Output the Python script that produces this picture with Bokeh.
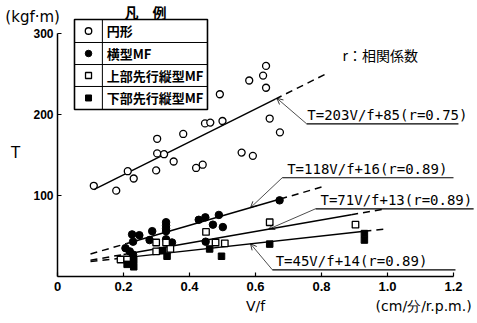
from bokeh.plotting import figure
from bokeh.models import Range1d, FixedTicker, Label, Arrow, OpenHead, BasicTickFormatter
from bokeh.embed import file_html
from bokeh.resources import INLINE

# ---------------- data ----------------
# 円形 (open circles)
en_x = [0.11, 0.178, 0.213, 0.231, 0.299, 0.302, 0.302, 0.323, 0.352, 0.381, 0.42, 0.44,
        0.447, 0.463, 0.50, 0.492, 0.558, 0.592, 0.581, 0.623, 0.632, 0.632, 0.643, 0.674]
en_y = [112, 106, 130, 121, 131, 170, 152, 151, 142, 176, 134, 138,
        189, 190, 192, 225, 153, 149, 242, 248, 260, 233, 195, 178]
# 横型MF (filled circles)
yoko_x = [0.206, 0.219, 0.229, 0.226, 0.248, 0.229, 0.287, 0.279, 0.329, 0.329, 0.329, 0.329,
          0.329, 0.347, 0.428, 0.448, 0.471, 0.489, 0.501, 0.449, 0.673]
yoko_y = [35, 31, 27, 52, 51, 43, 56, 45, 67, 63, 59, 56,
          46, 42, 70, 73, 64, 76, 61, 43, 94]
# 上部先行縦型MF (open squares)
jo_x = [0.191, 0.211, 0.299, 0.299, 0.329, 0.342, 0.45, 0.479, 0.507, 0.643, 0.903]
jo_y = [21, 21, 42, 31, 42, 34, 55, 42, 41, 67, 64]
# 下部先行縦型MF (filled squares)
ka_x = [0.211, 0.231, 0.231, 0.319, 0.332, 0.461, 0.497, 0.643, 0.93, 0.93]
ka_y = [15, 20, 12, 32, 25, 34, 25, 40, 53, 45]

# regression lines  T = a V/f + b
fit_a = [203, 118, 71, 45]
fit_b = [85, 16, 13, 14]
fit_r = ["0.75", "0.89", "0.89", "0.89"]
# x extents: dashed-start, solid-start, solid-end, dashed-end
fit_ext = [(0.11, 0.11, 0.66, 0.81),
           (0.10, 0.21, 0.675, 0.80),
           (0.10, 0.20, 0.89, 0.99),
           (0.10, 0.20, 0.93, 1.00)]

x_ticks = [0, 0.2, 0.4, 0.6, 0.8, 1.0, 1.2]
x_tick_labels = ["0", "0.2", "0.4", "0.6", "0.8", "1.0", "1.2"]
y_ticks = [100, 200, 300]
y_tick_labels = ["100", "200", "300"]

legend_labels = ["円形", "横型MF", "上部先行縦型MF", "下部先行縦型MF"]

# ---------------- figure ----------------
p = figure(width=477, height=323, output_backend="svg", toolbar_location=None,
           x_range=Range1d(-0.17273, 1.27273), y_range=Range1d(-58.02, 340.74),
           min_border_left=0, min_border_right=0, min_border_top=0, min_border_bottom=0)
p.outline_line_color = None
p.grid.visible = False
p.background_fill_color = "white"
p.border_fill_color = "white"

for ax in (p.xaxis, p.yaxis):
    ax.fixed_location = 0
    ax.axis_line_width = 1.5
    ax.axis_line_color = "black"
    ax.major_tick_in = 4
    ax.major_tick_out = 0
    ax.major_tick_line_width = 1.2
    ax.minor_tick_line_color = None
    ax.major_label_text_font = "Liberation Sans"
    ax.major_label_text_font_style = "bold"
    ax.major_label_text_color = "black"

p.xaxis.bounds = (0, 1.2)
p.yaxis.bounds = (0, 300)
p.xaxis.ticker = FixedTicker(ticks=x_ticks)
p.yaxis.ticker = FixedTicker(ticks=y_ticks)
p.xaxis.formatter = BasicTickFormatter(precision=1)
p.xaxis.major_label_overrides = {t: l for t, l in zip(x_ticks, x_tick_labels)}
p.yaxis.major_label_overrides = {t: l for t, l in zip(y_ticks, y_tick_labels)}
p.xaxis.major_label_text_font_size = "13px"
p.yaxis.major_label_text_font_size = "12px"
p.xaxis.major_label_standoff = 5
p.yaxis.major_label_standoff = 4

# regression lines
for a, b, (x0, x1, x2, x3) in zip(fit_a, fit_b, fit_ext):
    p.line([x1, x2], [a * x1 + b, a * x2 + b], line_color="black", line_width=1.5)
    if x1 > x0:
        p.line([x0, x1], [a * x0 + b, a * x1 + b], line_color="black", line_width=1.5,
               line_dash="7 5")
    p.line([x2, x3], [a * x2 + b, a * x3 + b], line_color="black", line_width=1.5,
           line_dash="7 5")

# data points
p.scatter(en_x, en_y, marker="circle", size=7, fill_color="white", line_color="black", line_width=1.3)
p.scatter(yoko_x, yoko_y, marker="circle", size=7.5, fill_color="black", line_color="black")
p.scatter(jo_x, jo_y, marker="square", size=6.5, fill_color="white", line_color="black", line_width=1.3)
p.scatter(ka_x, ka_y, marker="square", size=6.5, fill_color="black", line_color="black")

# equation labels: (text-left x, underline y, underline x0, underline x1, arrow-tip x)
eq_pos = [(0.757, 188.5, 0.755, 1.215, 0.665),
          (0.696, 121.9, 0.681, 1.200, 0.585),
          (0.797, 83.6, 0.782, 1.261, 0.640),
          (0.661, 8.3, 0.651, 1.206, 0.585)]
for a, b, r, (tx, uy, ux0, ux1, tipx) in zip(fit_a, fit_b, fit_r, eq_pos):
    p.line([ux0, ux1], [uy, uy], line_color="black", line_width=1.2)
    p.add_layout(Arrow(end=OpenHead(size=6, line_width=0.8, line_color="black"),
                       x_start=ux0, y_start=uy, x_end=tipx, y_end=a * tipx + b,
                       line_width=0.7, line_color="black"))
    p.add_layout(Label(x=tx, y=uy + 1.5, text=f"T={a}V/f+{b}(r={r})",
                       text_font="DejaVu Sans Mono", text_font_size="14px",
                       text_baseline="bottom", text_align="left", text_color="black"))

# legend table
lg_left, lg_right, lg_div = 0.0515, 0.4545, 0.136
lg_rows = [317.3, 288.9, 261.7, 234.6, 206.2]
p.quad(left=[lg_left], right=[lg_right], top=[lg_rows[0]], bottom=[lg_rows[-1]],
       fill_color="white", line_color="black", line_width=1.6)
for yy in lg_rows[1:-1]:
    p.line([lg_left, lg_right], [yy, yy], line_color="black", line_width=1.0)
p.line([lg_div, lg_div], [lg_rows[0], lg_rows[-1]], line_color="black", line_width=1.0)
centers = [(lg_rows[i] + lg_rows[i + 1]) / 2 for i in range(4)]
mx = 0.094
p.scatter([mx], [centers[0]], marker="circle", size=6.5, fill_color="white", line_color="black", line_width=1.3)
p.scatter([mx], [centers[1]], marker="circle", size=6.5, fill_color="black", line_color="black")
p.scatter([mx], [centers[2]], marker="square", size=6, fill_color="white", line_color="black", line_width=1.3)
p.scatter([mx], [centers[3]], marker="square", size=6, fill_color="black", line_color="black")
for c, t in zip(centers, legend_labels):
    p.add_layout(Label(x=0.149, y=c, text=t, text_font="Noto Sans CJK JP", text_font_size="13px",
                       text_font_style="bold", text_baseline="middle", text_align="left",
                       text_color="black"))
p.add_layout(Label(x=0.267, y=326, text="凡　例", text_font="Noto Sans CJK JP", text_font_size="14px",
                   text_font_style="bold", text_baseline="middle", text_align="center",
                   text_color="black"))

# other texts
p.add_layout(Label(x=0.864, y=274, text="r：相関係数", text_font="Noto Sans CJK JP",
                   text_font_size="14px", text_baseline="middle", text_align="left",
                   text_color="black"))
p.add_layout(Label(x=-0.158, y=320, text="(kgf·m)", text_font="DejaVu Sans",
                   text_font_size="15px", text_baseline="middle", text_align="left",
                   text_color="black"))
p.add_layout(Label(x=-0.127, y=152, text="T", text_font="DejaVu Sans",
                   text_font_size="15px", text_baseline="middle", text_align="center",
                   text_color="black"))
p.add_layout(Label(x=0.6, y=-35.8, text="V/f", text_font="DejaVu Sans",
                   text_font_size="14px", text_baseline="middle", text_align="center",
                   text_color="black"))
p.add_layout(Label(x=0.964, y=-35.8, text="(cm/分/r.p.m.)", text_font="DejaVu Sans",
                   text_font_size="14px", text_baseline="middle", text_align="left",
                   text_color="black"))

open("out.html", "w").write(file_html(p, INLINE))
